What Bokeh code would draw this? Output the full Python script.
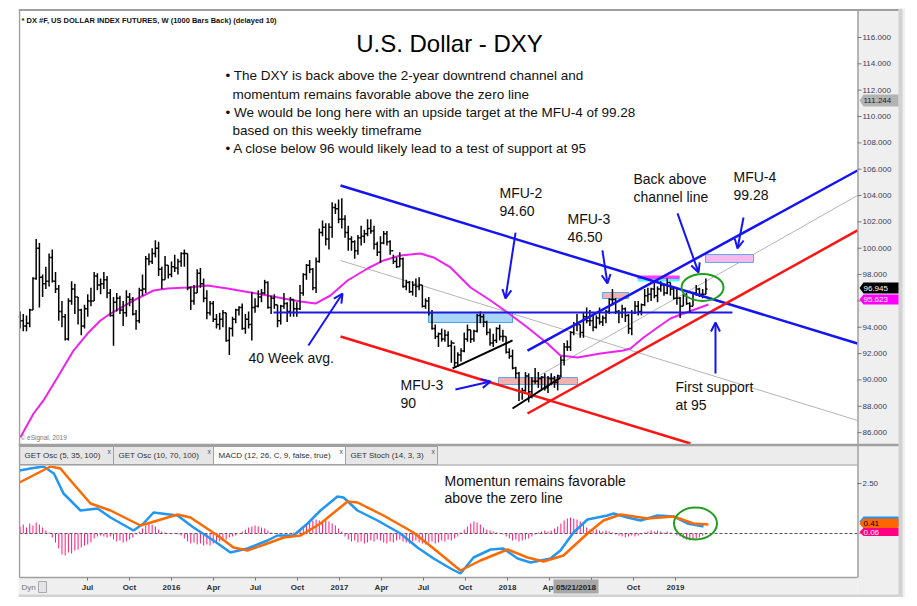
import pandas as pd
from bokeh.plotting import figure
from bokeh.models import Range1d, Label, Arrow, OpenHead, ColumnDataSource, Spacer
from bokeh.layouts import row, column
from bokeh.embed import file_html
from bokeh.resources import INLINE
from bokeh.core.properties import value

# ---------------- data ----------------
bar_start = "2015-02-06"          # first weekly bar
bar_first_open = 94.8
bar_close = [
    94.5, 94.1, 94.3, 95.3, 97.7, 100.0, 97.8, 97.3, 97.5, 99.3,
    97.5, 96.9, 95.2, 94.8, 93.1, 96.0, 96.9, 96.3, 95.3, 94.1,
    95.4, 96.0, 96.0, 97.9, 97.2, 97.3, 97.6, 96.6, 94.9, 95.9,
    96.2, 95.3, 95.1, 96.3, 96.1, 95.0, 94.5, 96.8, 96.9, 99.2,
    99.0, 99.6, 100.0, 98.4, 97.6, 98.7, 98.0, 98.6, 98.5, 99.0,
    99.6, 99.6, 97.0, 96.0, 96.6, 98.1, 97.3, 96.2, 95.1, 95.8,
    94.6, 94.2, 94.6, 95.1, 93.0, 93.9, 94.6, 95.3, 95.5, 93.9,
    94.6, 94.2, 95.5, 95.6, 96.3, 96.6, 97.4, 95.5, 96.2, 95.7,
    94.5, 95.6, 95.8, 95.2, 96.1, 95.4, 95.4, 96.6, 98.0, 98.7,
    98.4, 97.0, 99.0, 101.2, 101.6, 100.7, 101.6, 103.1, 103.0, 102.2,
    102.2, 101.2, 100.7, 100.5, 99.8, 100.8, 100.9, 101.1, 101.5, 101.3,
    100.3, 99.7, 100.4, 101.1, 100.5, 99.8, 99.0, 98.6, 99.2, 97.1,
    97.4, 96.7, 97.2, 97.1, 97.2, 95.6, 96.0, 95.1, 93.9, 93.3,
    93.5, 93.1, 93.4, 92.6, 92.8, 91.3, 91.9, 92.2, 93.1, 93.8,
    93.1, 93.7, 94.9, 94.8, 94.4, 93.6, 92.8, 93.0, 93.9, 93.3,
    93.3, 92.1, 91.8, 90.9, 90.5, 89.1, 89.2, 90.3, 89.1, 89.9,
    89.9, 90.1, 90.2, 89.4, 90.1, 90.1, 89.8, 90.3, 91.5, 92.5,
    92.5, 93.6, 94.2, 94.2, 93.6, 94.8, 94.5, 94.5, 94.0, 94.7,
    94.4, 94.7, 95.2, 96.1, 96.1, 95.2, 95.1, 95.4, 94.9, 93.9,
    95.1, 95.6, 95.2, 95.7, 96.4, 96.5, 96.9, 96.4, 96.9, 97.2,
    96.6, 97.4, 96.9, 96.2, 96.2, 95.6, 96.4, 95.8, 95.6, 96.6,
    96.9, 96.5, 96.5, 96.9]
bar_high = [
    95.2, 95.0, 94.9, 95.4, 97.8, 100.7, 100.4, 98.0, 98.6, 99.6,
    99.9, 98.2, 97.2, 96.0, 95.0, 96.2, 97.5, 97.3, 96.3, 95.4,
    95.7, 96.5, 97.0, 98.2, 98.1, 97.7, 98.2, 97.9, 96.9, 96.3,
    96.6, 96.4, 96.0, 96.8, 96.6, 96.3, 95.3, 97.0, 98.0, 99.4,
    99.6, 100.0, 100.6, 100.5, 98.6, 99.4, 98.7, 99.0, 99.5, 99.2,
    99.7, 99.9, 99.6, 97.1, 97.2, 98.4, 98.5, 97.7, 96.8, 96.0,
    96.0, 95.0, 95.1, 95.3, 95.1, 94.0, 94.8, 95.4, 95.6, 95.8,
    95.0, 95.2, 96.7, 96.2, 96.8, 96.9, 97.6, 97.5, 96.4, 96.5,
    95.7, 95.7, 96.6, 95.9, 96.3, 96.1, 95.9, 97.2, 98.1, 98.8,
    99.1, 98.5, 99.3, 101.5, 102.1, 101.9, 101.9, 103.5, 103.4, 103.7,
    103.8, 102.5, 101.7, 100.9, 100.6, 101.0, 101.7, 101.4, 102.2, 102.2,
    101.7, 100.5, 100.9, 101.3, 101.3, 100.6, 99.5, 99.3, 99.7, 99.3,
    97.6, 97.5, 97.5, 97.7, 97.8, 97.2, 96.2, 96.3, 95.3, 94.2,
    93.6, 93.9, 93.8, 93.7, 93.0, 92.6, 92.1, 92.4, 93.6, 94.2,
    93.8, 93.8, 95.0, 95.2, 95.0, 94.5, 93.9, 93.5, 94.0, 94.2,
    93.8, 93.3, 92.4, 92.3, 91.0, 90.6, 89.4, 90.6, 90.5, 90.2,
    90.9, 90.6, 90.3, 90.5, 90.3, 90.5, 90.3, 90.4, 91.8, 92.8,
    93.0, 93.7, 94.4, 95.0, 94.2, 95.1, 95.5, 95.3, 94.9, 94.9,
    95.5, 94.9, 95.3, 96.2, 96.9, 96.2, 95.3, 95.7, 95.5, 95.0,
    95.3, 96.0, 96.0, 95.8, 96.9, 97.0, 97.0, 97.5, 97.1, 97.5,
    97.2, 97.7, 97.4, 97.1, 96.9, 96.3, 96.5, 96.6, 95.9, 96.7,
    97.2, 97.0, 96.9, 97.7]
bar_low = [
    93.9, 93.7, 93.7, 94.0, 95.3, 97.6, 95.5, 96.3, 96.9, 97.1,
    97.4, 96.6, 94.5, 94.0, 93.0, 93.0, 95.7, 95.0, 94.2, 93.4,
    93.9, 94.8, 95.6, 96.0, 96.8, 96.5, 96.9, 96.2, 94.8, 92.6,
    95.2, 95.0, 94.1, 94.8, 95.6, 94.9, 93.8, 94.3, 96.4, 96.6,
    98.7, 98.8, 99.3, 97.9, 96.9, 97.6, 97.7, 97.8, 98.2, 98.0,
    98.6, 98.6, 96.8, 95.3, 95.7, 96.6, 97.0, 95.9, 94.6, 94.9,
    94.4, 93.9, 93.8, 94.0, 92.9, 91.9, 93.3, 94.3, 94.9, 93.8,
    93.5, 93.9, 93.0, 95.1, 95.5, 95.9, 96.5, 95.4, 95.0, 95.4,
    94.0, 94.2, 95.4, 94.4, 94.8, 94.8, 94.8, 95.3, 96.4, 97.6,
    98.1, 96.8, 96.6, 98.9, 100.9, 100.2, 99.9, 100.8, 102.6, 101.9,
    101.5, 100.8, 99.8, 99.8, 99.2, 99.5, 100.2, 100.4, 100.9, 101.1,
    99.9, 99.4, 98.9, 100.3, 100.2, 99.5, 98.8, 98.5, 98.6, 97.0,
    96.8, 96.6, 96.4, 96.3, 96.8, 95.5, 95.4, 94.9, 93.8, 93.1,
    92.5, 92.9, 92.9, 92.5, 91.3, 91.0, 91.0, 91.4, 92.1, 92.9,
    92.8, 92.9, 93.6, 94.3, 94.0, 93.4, 92.6, 92.5, 92.8, 93.0,
    92.9, 92.0, 91.6, 90.8, 90.1, 88.4, 88.5, 89.1, 88.3, 88.6,
    89.7, 89.4, 89.3, 89.2, 89.0, 89.6, 89.4, 89.2, 90.2, 91.1,
    92.2, 92.2, 93.4, 93.7, 93.2, 93.2, 94.3, 94.1, 93.7, 93.9,
    94.2, 94.1, 94.3, 95.0, 95.7, 95.0, 94.3, 94.7, 94.4, 93.5,
    93.4, 95.0, 94.9, 94.9, 95.6, 95.9, 96.0, 96.2, 95.9, 96.7,
    96.4, 96.5, 96.4, 96.1, 95.7, 94.7, 95.6, 95.7, 95.1, 95.6,
    96.4, 96.3, 96.2, 96.5]

# 40-week average (magenta), read as (decimal year, value)
ma40_year = [2015.101, 2015.179, 2015.238, 2015.321, 2015.417, 2015.5, 2015.577,
             2015.637, 2015.774, 2015.893, 2015.976, 2016.095, 2016.214, 2016.333,
             2016.470, 2016.571, 2016.667, 2016.768, 2016.857, 2016.946, 2017.048,
             2017.167, 2017.262, 2017.363, 2017.482, 2017.560, 2017.661, 2017.780,
             2017.899, 2018.0, 2018.119, 2018.238, 2018.315, 2018.417, 2018.554,
             2018.690, 2018.732, 2018.810, 2018.893, 2018.970, 2019.048, 2019.131,
             2019.196]
ma40_value = [85.65, 87.45, 88.44, 90.18, 92.23, 93.52, 94.51,
              95.04, 96.03, 96.79, 96.94, 97.02, 97.17, 96.94,
              96.64, 96.41, 96.18, 95.95, 95.80, 96.41, 97.55,
              98.46, 99.07, 99.45, 99.60, 99.30, 98.54, 97.02,
              96.03, 95.12, 93.98, 92.77, 91.85, 91.70, 92.01,
              92.23, 92.39, 93.22, 93.98, 94.66, 95.04, 95.42,
              95.73]

# MACD (blue) and signal (orange)
macd_year = [2015.095, 2015.16, 2015.238, 2015.30, 2015.357, 2015.458, 2015.560,
             2015.637, 2015.774, 2015.833, 2015.893, 2016.036, 2016.131, 2016.250,
             2016.351, 2016.452, 2016.571, 2016.631, 2016.726, 2016.810, 2016.887,
             2016.988, 2017.024, 2017.107, 2017.226, 2017.363, 2017.464, 2017.560,
             2017.661, 2017.720, 2017.798, 2017.899, 2017.976, 2018.060, 2018.137,
             2018.256, 2018.315, 2018.393, 2018.476, 2018.595, 2018.631, 2018.714,
             2018.792, 2018.893, 2018.988, 2019.071, 2019.167]
macd_value = [3.15, 3.25, 3.35, 3.0, 2.0, 1.15, 1.25,
              0.8, 0.15, 0.5, 1.05, 0.9, 0.3, -0.35,
              -0.95, -0.75, -0.35, -0.1, -0.1, 0.5, 1.15,
              1.85, 1.8, 1.15, 0.65, 0.0, -0.7, -1.25,
              -1.75, -2.0, -1.2, -0.8, -0.75, -1.25, -1.45,
              -1.25, -0.85, 0.05, 0.7, 0.9, 1.0, 0.8,
              0.65, 0.9, 0.85, 0.5, 0.35]
signal_year = [2015.095, 2015.280, 2015.339, 2015.399, 2015.518, 2015.637, 2015.815,
               2015.917, 2016.036, 2016.113, 2016.274, 2016.369, 2016.452, 2016.571,
               2016.667, 2016.768, 2016.887, 2017.048, 2017.107, 2017.262, 2017.440,
               2017.560, 2017.720, 2017.839, 2018.0, 2018.119, 2018.214, 2018.333,
               2018.476, 2018.571, 2018.673, 2018.833, 2018.988, 2019.107, 2019.196]
signal_value = [2.55, 3.35, 3.25, 2.65, 1.5, 1.15, 0.4,
                0.65, 0.95, 0.8, -0.1, -0.7, -0.85, -0.5,
                -0.2, -0.1, 0.5, 1.6, 1.55, 0.9, 0.05,
                -0.75, -1.85, -1.35, -0.8, -1.2, -1.4, -1.1,
                0.0, 0.65, 0.95, 0.75, 0.85, 0.5, 0.45]
# weekly histogram (one per bar)
hist_value = [
    0.35, 0.45, 0.3, 0.5, 0.4, 0.55, 0.45, 0.3, 0.15,
    0.05,
    -0.2, -0.45, -0.75, -1.05, -1.1, -0.95, -1.0, -0.85, -0.8, -0.7, -0.6, -0.55,
    -0.45, -0.25, -0.15, -0.1, -0.15, -0.2, -0.15,
    -0.3, -0.4, -0.35, -0.45, -0.4, -0.3, -0.2,
    -0.05, 0.1,
    0.25, 0.4, 0.5, 0.45, 0.35, 0.2, 0.1,
    0.05, 0.02, -0.03, 0.03, -0.05, -0.1,
    -0.25, -0.4, -0.5, -0.45, -0.55, -0.5, -0.6, -0.55, -0.6, -0.5, -0.45, -0.4, -0.35, -0.3, -0.2,
    -0.15, -0.1, 0.0, 0.1, 0.2,
    0.3, 0.35, 0.4, 0.35, 0.3, 0.25, 0.15, 0.05,
    0.02, -0.03, 0.02, 0.0, -0.02, 0.03, 0.05, 0.1,
    0.15, 0.3, 0.45, 0.55, 0.65, 0.7, 0.65, 0.6, 0.7, 0.6, 0.5, 0.4, 0.25, 0.1,
    -0.15, -0.3, -0.4, -0.35, -0.45, -0.4, -0.5, -0.45, -0.35, -0.4,
    -0.3, -0.35, -0.45, -0.5, -0.4, -0.45, -0.35, -0.3, -0.4, -0.45,
    -0.5, -0.4, -0.35, -0.45, -0.5, -0.55, -0.45, -0.4, -0.5, -0.45,
    -0.35, -0.4, -0.3, -0.35, -0.25, -0.15,
    0.05, 0.2, 0.35, 0.5, 0.6, 0.55, 0.45, 0.3, 0.2,
    0.15, 0.1, 0.05, 0.0, -0.05,
    -0.15, -0.25, -0.35, -0.3, -0.4, -0.35, -0.3, -0.25, -0.15, -0.05,
    0.05, 0.1, 0.15, 0.1, 0.15, 0.25,
    0.35, 0.5, 0.65, 0.75, 0.8, 0.75, 0.7, 0.6, 0.45,
    0.3, 0.2, 0.15, 0.2, 0.15, 0.1, 0.15, 0.1, 0.05,
    -0.05, -0.1, -0.15, -0.2, -0.15, -0.1, -0.15, -0.1, -0.05,
    0.05, 0.1, 0.15, 0.1, 0.15, 0.1, 0.05, 0.1, 0.05, 0.0,
    -0.1, -0.15, -0.25, -0.3, -0.35, -0.3, -0.25, -0.2, -0.1, -0.05]

# drawn trend lines: (year0, price0, year1, price1)
channel_down_upper = (2017.006, 104.76, 2020.083, 92.77)
channel_down_lower = (2017.006, 93.30, 2019.089, 85.17)
channel_down_mid = (2017.006, 99.07, 2020.083, 86.92)
channel_up_upper = (2018.119, 92.23, 2020.083, 105.90)
channel_up_lower = (2018.119, 87.45, 2020.083, 101.35)
channel_up_mid = (2018.196, 90.38, 2020.083, 104.0)
support_line = (2016.607, 95.12, 2019.339, 95.12)
black_line_1 = (2017.673, 90.87, 2018.030, 93.00)
black_line_2 = (2018.030, 87.83, 2018.315, 90.18)

# MFU zones (year0, year1, price_bottom, price_top)
zone_mfu2 = (2017.530, 2018.030, 94.36, 95.12)
zone_mfu3_hi = (2018.565, 2018.720, 96.18, 96.64)
zone_mfu3_lo = (2017.946, 2018.417, 89.65, 90.18)
zone_top_magenta = (2018.774, 2019.024, 97.66, 97.93)
zone_top_cyan = (2018.774, 2019.024, 97.47, 97.66)
zone_mfu4 = (2019.179, 2019.464, 98.92, 99.52)

# arrows (year0, price0, year1, price1)
arrow_list = [
    (2016.815, 92.61, 2017.018, 96.56),   # 40 week avg.
    (2018.048, 101.19, 2017.988, 96.18),  # MFU-2
    (2018.565, 99.83, 2018.595, 97.32),   # MFU-3 46.50
    (2019.012, 102.64, 2019.137, 98.16),  # back above
    (2019.405, 102.33, 2019.369, 99.98),  # MFU-4
    (2019.238, 90.49, 2019.238, 94.36),   # first support
    (2017.690, 89.27, 2017.899, 89.88),   # MFU-3 90
]

# last-value tags on the price/MACD scales
last_tags = [("111.244", "#b3b3b3", "#222222"),
             ("96.945", "#000000", "#ffffff"),
             ("95.623", "#ff00ff", "#ffffff"),
             ("0.41", "#ff6600", "#000000"),
             ("0.06", "#ff0080", "#ffffff")]

price_ticks = [86, 88, 90, 92, 94, 96, 98, 100, 102, 104, 106, 108, 110, 112, 114, 116]
macd_ticks = [2.5]
date_tick_year = [2015.5, 2015.75, 2016, 2016.25, 2016.5, 2016.75, 2017, 2017.25,
                  2017.5, 2017.75, 2018, 2018.25, 2018.5, 2018.75, 2019]
date_tick_label = ["Jul", "Oct", "2016", "Apr", "Jul", "Oct", "2017", "Apr",
                   "Jul", "Oct", "2018", "Apr", "Jul", "Oct", "2019"]

# ---------------- derived ----------------
n = min(len(bar_close), len(bar_high), len(bar_low))
dates = pd.date_range(bar_start, periods=n, freq="7D")
bar_year = [d.year + (d.dayofyear - 1) / (366 if d.is_leap_year else 365) for d in dates]
bar_open = [bar_first_open] + bar_close[:n - 1]
TICK = 0.0095
src = ColumnDataSource(dict(x=bar_year, xl=[v - TICK for v in bar_year], xr=[v + TICK for v in bar_year],
                            hi=bar_high[:n], lo=bar_low[:n], op=bar_open, cl=bar_close[:n]))

FONT = "Liberation Sans"
BLUE = "#1414f5"
RED = "#ff1414"
GREEN = "#1f9e1f"
MAGENTA = "#ee22ee"

# canvas geometry (canvas pixel coords: x 18..905, y 8..597 from the top)
W, H = 887, 589
X_LO, X_HI = 2015.089286, 2020.369048     # 168 px per year
P_LO, P_HI = 73.4791, 118.2020             # 13.17 px per point
M_LO, M_HI = -3.2, 26.25                   # 20 px per MACD unit

p = figure(width=W, height=H, x_range=Range1d(X_LO, X_HI), y_range=Range1d(P_LO, P_HI),
           output_backend="svg", toolbar_location=None,
           x_axis_location=None, y_axis_location=None,
           min_border_left=0, min_border_top=0, min_border_right=0, min_border_bottom=0,
           background_fill_color="white", border_fill_color="white",
           outline_line_color=None)
p.grid.visible = False
p.extra_y_ranges = {"macd": Range1d(M_LO, M_HI), "py": Range1d(597, 8)}
p.extra_x_ranges = {"px": Range1d(18, 905)}
PX = dict(x_range_name="px", y_range_name="py")

# axis areas (grey)
p.quad(left=[857], right=[905], bottom=[597], top=[8], fill_color="#efefef", line_color=None, **PX)
p.quad(left=[18], right=[857], bottom=[597], top=[577], fill_color="#efefef", line_color=None, **PX)
p.quad(left=[898], right=[902], bottom=[597], top=[8], fill_color="#d2d2d2", line_color=None, **PX)
p.quad(left=[18], right=[902], bottom=[597], top=[594], fill_color="#d2d2d2", line_color=None, **PX)


def seg(line, color, width, **kw):
    p.segment(x0=[line[0]], y0=[line[1]], x1=[line[2]], y1=[line[3]],
              line_color=color, line_width=width, **kw)


def zone(z, fill, line):
    p.quad(left=[z[0]], right=[z[1]], bottom=[z[2]], top=[z[3]],
           fill_color=fill, line_color=line, line_width=1)


# thin gray mid lines
seg(channel_down_mid, "#b5b5b5", 1)
seg(channel_up_mid, "#b5b5b5", 1)

# zones
zone(zone_mfu2, "#a8d6f6", "#4a9ee8")
zone(zone_mfu3_hi, "#f3b2b2", "#5aa8e8")
zone(zone_mfu3_lo, "#f3b2b2", "#5aa8e8")
zone(zone_mfu4, "#f8b8ef", "#5aa8e8")
zone(zone_top_magenta, "#ff3cff", None)
zone(zone_top_cyan, "#3cffff", None)

# 40-week average
p.line(ma40_year, ma40_value, line_color=MAGENTA, line_width=2)

# price bars
p.segment(x0="x", y0="lo", x1="x", y1="hi", source=src, line_color="black", line_width=1.5)
p.segment(x0="xl", y0="op", x1="x", y1="op", source=src, line_color="black", line_width=1.5)
p.segment(x0="x", y0="cl", x1="xr", y1="cl", source=src, line_color="black", line_width=1.5)

# trend lines
seg(channel_down_upper, BLUE, 2.5)
seg(channel_down_lower, RED, 2.5)
seg(channel_up_upper, BLUE, 2.5)
seg(channel_up_lower, RED, 2.5)
seg(support_line, "#1a1ae0", 2)
seg(black_line_1, "black", 2)
seg(black_line_2, "black", 2)

# green circles
p.ellipse(x=[2019.161], y=[97.02], width=[0.25], height=[2.05],
          fill_color=None, line_color=GREEN, line_width=2)

for a in arrow_list:
    p.add_layout(Arrow(end=OpenHead(size=9, line_color=BLUE, line_width=2),
                       x_start=a[0], y_start=a[1], x_end=a[2], y_end=a[3],
                       line_color=BLUE, line_width=2))

# ---- MACD panel ----
p.segment(x0=[19], y0=[0], x1=[860], y1=[0], x_range_name="px", y_range_name="macd",
          line_color="#555555", line_dash="3 2", line_width=1)
p.segment(x0=bar_year, y0=[0] * n, x1=bar_year, y1=hist_value[:n], y_range_name="macd",
          line_color="#ff1a78", line_width=1)
p.line(macd_year, macd_value, y_range_name="macd", line_color="#2196f3", line_width=2.5)
p.line(signal_year, signal_value, y_range_name="macd", line_color="#ff6a00", line_width=2.5)
p.ellipse(x=[2019.119], y=[0.5], width=[0.256], height=[1.6], y_range_name="macd",
          fill_color=None, line_color=GREEN, line_width=2)

# ---- tab row ----
p.quad(left=[19], right=[857], bottom=[465], top=[445], fill_color="#ececec", line_color=None, **PX)
tab_left = [19, 113, 213, 345]
tab_right = [113, 213, 345, 437]
tab_text = ["GET Osc (5, 35, 100)", "GET Osc (10, 70, 100)",
            "MACD (12, 26, C, 9, false, true)", "GET Stoch (14, 3, 3)"]
tab_fill = ["#e6e6e6", "#e6e6e6", "#fbfbfb", "#e6e6e6"]
p.quad(left=tab_left, right=tab_right, bottom=[464] * 4, top=[446] * 4,
       fill_color=tab_fill, line_color="#a0a0a0", **PX)

# frame lines
p.segment(x0=[18], y0=[444.5], x1=[898], y1=[444.5], line_color="#a0a0a0", line_width=2.5, **PX)
p.segment(x0=[19], y0=[464.5], x1=[857], y1=[464.5], line_color="#a0a0a0", line_width=1, **PX)
p.segment(x0=[18], y0=[9.5], x1=[898], y1=[9.5], line_color="#a0a0a0", line_width=2, **PX)
p.segment(x0=[19], y0=[9], x1=[19], y1=[577], line_color="#a0a0a0", line_width=1.5, **PX)
p.segment(x0=[857.5], y0=[9], x1=[857.5], y1=[577], line_color="#a0a0a0", line_width=1.5, **PX)
p.segment(x0=[19], y0=[577], x1=[857], y1=[577], line_color="#a0a0a0", line_width=1.5, **PX)

# ---- scales: price + MACD on the right, dates at the bottom ----
p.segment(x0=[857] * len(price_ticks), y0=price_ticks, x1=[861] * len(price_ticks), y1=price_ticks,
          x_range_name="px", line_color="#777777", line_width=1)
p.text(x=[862] * len(price_ticks), y=price_ticks, text=[f"{t:.3f}" for t in price_ticks],
       x_range_name="px", text_font=value(FONT), text_font_size="8px", text_color="#3a3a5a",
       text_baseline="middle", text_align="left")
p.segment(x0=[857] * len(macd_ticks), y0=macd_ticks, x1=[861] * len(macd_ticks), y1=macd_ticks,
          x_range_name="px", y_range_name="macd", line_color="#777777", line_width=1)
p.text(x=[862] * len(macd_ticks), y=macd_ticks, text=[f"{t:.2f}" for t in macd_ticks],
       x_range_name="px", y_range_name="macd", text_font=value(FONT), text_font_size="8px",
       text_color="#3a3a5a", text_baseline="middle", text_align="left")
p.segment(x0=date_tick_year, y0=[577] * len(date_tick_year), x1=date_tick_year, y1=[580] * len(date_tick_year),
          y_range_name="py", line_color="#777777", line_width=1)
p.text(x=date_tick_year, y=[586.5] * len(date_tick_year), text=date_tick_label, y_range_name="py",
       text_font=value(FONT), text_font_size="8px", text_font_style="bold", text_color="#303030",
       text_baseline="middle", text_align="center")

# value tags (pentagon flags) at the right edge
tag_y = [100, 287.5, 299, 523, 531.5]
tag_h = [12, 11, 10, 10, 8]
for (txt, bg, fg), ty, th in zip(last_tags, tag_y, tag_h):
    if txt == "0.41":
        p.patch([859, 863, 898, 898, 863], [ty - 2, ty - 2 - th / 2, ty - 2 - th / 2, ty - 2 + th / 2, ty - 2 + th / 2],
                fill_color="#2196f3", line_color=None, **PX)
    p.patch([859, 863, 898, 898, 863], [ty, ty - th / 2, ty - th / 2, ty + th / 2, ty + th / 2],
            fill_color=bg, line_color=None, **PX)
    p.text(x=[863], y=[ty], text=[txt], text_font=value(FONT), text_font_size="8px",
           text_color=fg, text_baseline="middle", text_align="left", **PX)

# bottom axis extras
p.quad(left=[553], right=[598], bottom=[593], top=[579], fill_color="#a8a8a8", line_color=None, **PX)
p.text(x=[575.5], y=[586.5], text=["05/21/2018"], text_font=value(FONT), text_font_size="8px",
       text_font_style="bold", text_color="#222222", text_baseline="middle", text_align="center", **PX)
p.text(x=[21], y=[586.5], text=["Dyn"], text_font=value(FONT), text_font_size="8px",
       text_color="#777777", text_baseline="middle", text_align="left", **PX)
p.quad(left=[38], right=[46], bottom=[592], top=[581], fill_color="#e4e4e4", line_color="#aaaaaa", **PX)


def note(txt, x, y, size="14px", color="#111111", align="left", style="normal"):
    p.add_layout(Label(x=x, y=y, x_range_name="px", y_range_name="py", text=txt,
                       text_font=FONT, text_font_size=size, text_color=color,
                       text_align=align, text_baseline="middle", text_font_style=style))


for tl, tr, tt in zip(tab_left, tab_right, tab_text):
    note(tt, tl + 5, 455, size="8px", color="#333333")
    note("x", tr - 6, 451, size="7px", color="#555555")

# header and comments
note("* DX #F, US DOLLAR INDEX FUTURES, W (1000 Bars Back) (delayed 10)", 21, 20,
     size="7.5px", style="bold", color="#111111")
note("U.S. Dollar - DXY", 449, 43, size="24px", align="center", color="#000000")
note("\u2022 The DXY is back above the 2-year downtrend channel and", 225, 75, size="13.5px")
note("momentum remains favorable above the zero line", 232, 94, size="13.5px")
note("\u2022 We would be long here with an upside target at the MFU-4 of 99.28", 225, 112, size="13.5px")
note("based on this weekly timeframe", 232, 130, size="13.5px")
note("\u2022 A close below 96 would likely lead to a test of support at 95", 225, 148, size="13.5px")

note("MFU-2", 499, 192)
note("94.60", 499, 210)
note("MFU-3", 567, 218)
note("46.50", 567, 236)
note("Back above", 633, 178)
note("channel line", 633, 196)
note("MFU-4", 733, 176)
note("99.28", 733, 194)
note("First support", 675, 386)
note("at 95", 675, 404)
note("40 Week avg.", 248, 357)
note("MFU-3", 400, 384)
note("90", 400, 402)
note("\u00a9 eSignal, 2019", 20, 437, size="6.5px", color="#777777")
note("Momentun remains favorable", 444, 480)
note("above the zero line", 444, 497)

layout = column(Spacer(width=10, height=8), row(Spacer(width=18, height=H), p))
open("out.html", "w").write(file_html(layout, INLINE))
